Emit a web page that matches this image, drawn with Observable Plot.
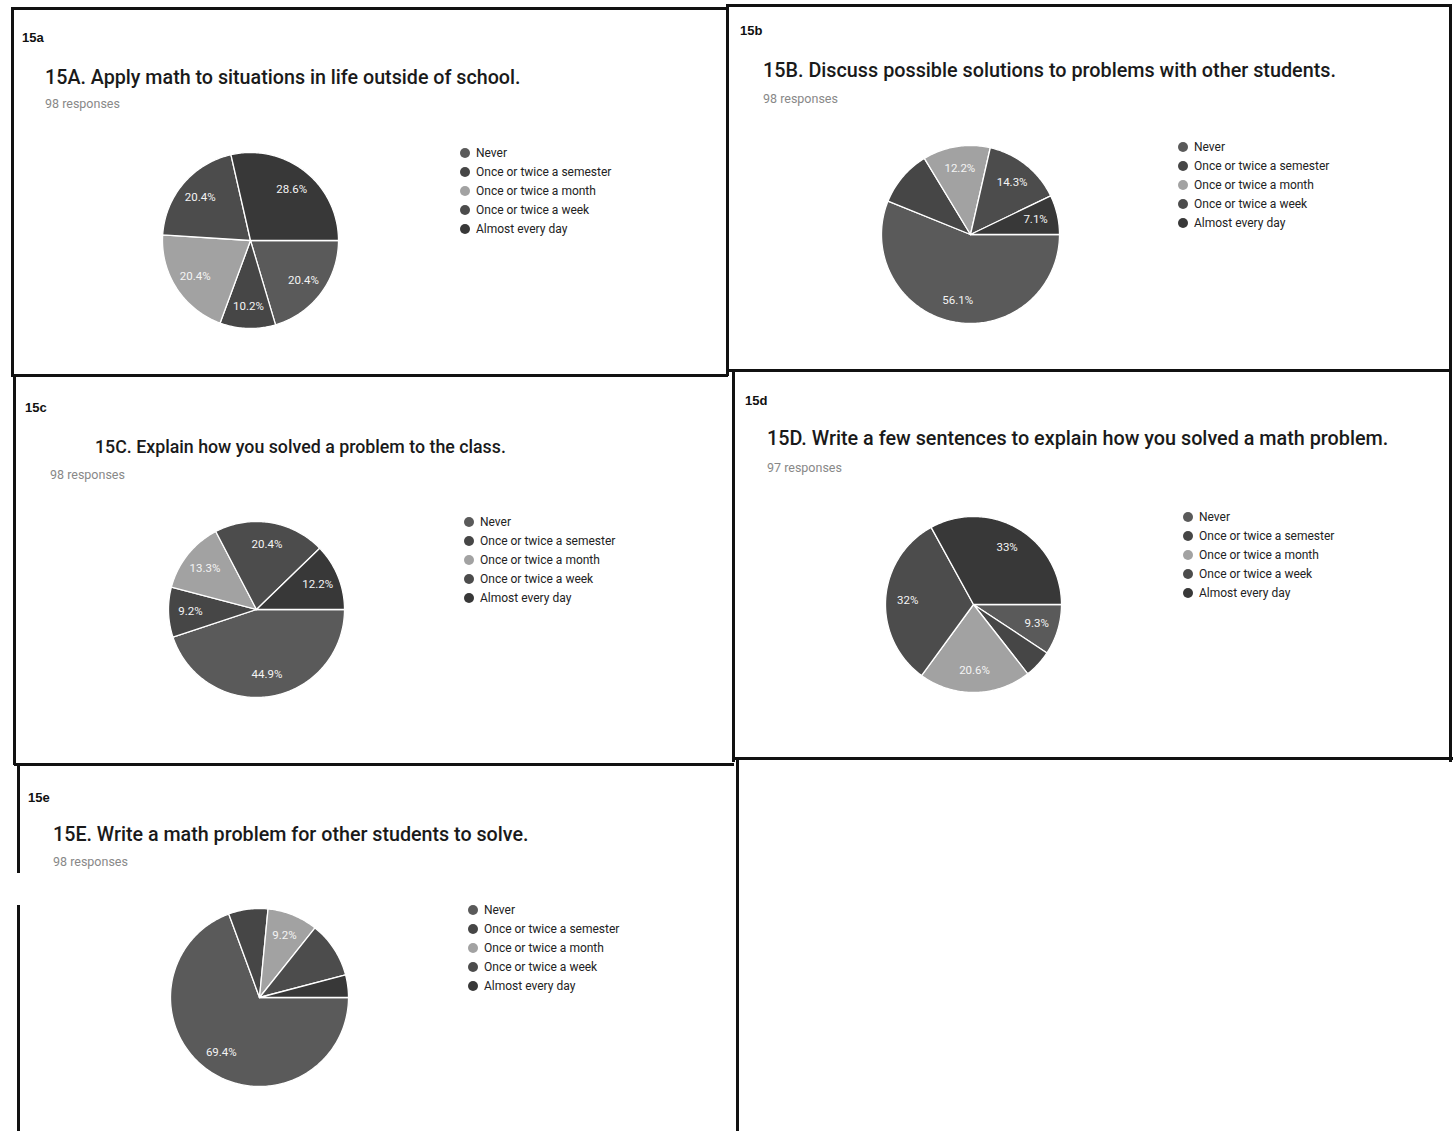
<!DOCTYPE html>
<html>
<head>
<meta charset="utf-8">
<script src="https://cdn.jsdelivr.net/npm/d3@7"></script>
<script src="https://cdn.jsdelivr.net/npm/@observablehq/plot@0.6"></script>
<style>
  html, body { margin: 0; padding: 0; background: #fff; }
  #page { position: relative; width: 1453px; height: 1131px; overflow: hidden; font-family: Roboto, "Noto Sans", sans-serif; }
  .line { position: absolute; background: #111; }
  .pid { position: absolute; font: bold 13px "Liberation Sans", Arial, sans-serif; color: #111; }
  .title { position: absolute; font-family: Roboto, sans-serif; font-weight: 500; color: #1a1a1a; white-space: nowrap; }
  .resp { position: absolute; font: 12.5px Roboto, sans-serif; color: #888; white-space: nowrap; }
  .legend { position: absolute; font: 12px Roboto, sans-serif; color: #222; }
  .legend div { height: 19px; line-height: 19px; white-space: nowrap; }
  .legend span.sw { display: inline-block; width: 10px; height: 10px; border-radius: 50%; vertical-align: -1px; margin-right: 6px; }
  .pie { position: absolute; }
</style>
</head>
<body>
<div id="page"></div>
<script>
// ---------- data ----------
const categories = ["Never", "Once or twice a semester", "Once or twice a month", "Once or twice a week", "Almost every day"];
const panelIds = ["15a", "15b", "15c", "15d", "15e"];
const titles = [
  "15A. Apply math to situations in life outside of school.",
  "15B. Discuss possible solutions to problems with other students.",
  "15C. Explain how you solved a problem to the class.",
  "15D. Write a few sentences to explain how you solved a math problem.",
  "15E. Write a math problem for other students to solve."
];
const responses = [98, 98, 98, 97, 98];
// response counts per category (Never .. Almost every day)
const counts15a = [20, 10, 20, 20, 28];
const counts15b = [55, 10, 12, 14, 7];
const counts15c = [44, 9, 13, 20, 12];
const counts15d = [9, 5, 20, 31, 32];
const counts15e = [68, 7, 9, 10, 4];
const counts = [counts15a, counts15b, counts15c, counts15d, counts15e];
// slices whose percentage label is visible in the reference
const shownLabels = [[0,1,2,3,4], [0,2,3,4], [0,1,2,3,4], [0,2,3,4], [0,2]];

// ---------- styling / layout ----------
const grays = ["#5a5a5a", "#464646", "#a2a2a2", "#4c4c4c", "#383838"];
const layout = [
  {id:[22,30], title:[45,66,19.7], resp:[45,96], cx:250, cy:240, r:88, legend:[460,144]},
  {id:[740,23], title:[763,59,19.8], resp:[763,91], cx:970, cy:234, r:89, legend:[1178,138]},
  {id:[25,400], title:[95,436,17.8], resp:[50,467], cx:256, cy:609, r:88, legend:[464,513]},
  {id:[745,393], title:[767,427,19.8], resp:[767,460], cx:973, cy:604, r:88, legend:[1183,508]},
  {id:[28,790], title:[53,823,19.7], resp:[53,854], cx:259, cy:997, r:89, legend:[468,901]}
];
const borders = [
  // [left, top, width, height]
  [12, 7, 716, 3], [727, 4, 724, 3],
  [11, 7, 3, 370], [726, 4, 3, 372], [1449, 4, 3, 758],
  [12, 374, 716, 3], [727, 369, 724, 3],
  [13, 375, 3, 390], [732, 370, 3, 392],
  [14, 763, 720, 3], [733, 757, 720, 3],
  [17, 763, 3, 110], [17, 905, 3, 226], [736, 758, 3, 373]
];

const page = document.getElementById("page");
for (const [l, t, w, h] of borders) {
  const d = document.createElement("div");
  d.className = "line";
  Object.assign(d.style, {left: l + "px", top: t + "px", width: w + "px", height: h + "px"});
  page.appendChild(d);
}

function fmt(c, total) {
  let s = (c / total * 100).toFixed(1);
  if (s.endsWith(".0")) s = s.slice(0, -2);
  return s + "%";
}

panelIds.forEach((pid, i) => {
  const L = layout[i];
  const idEl = document.createElement("div");
  idEl.className = "pid"; idEl.textContent = pid;
  Object.assign(idEl.style, {left: L.id[0] + "px", top: L.id[1] + "px"});
  page.appendChild(idEl);

  const t = document.createElement("div");
  t.className = "title"; t.textContent = titles[i];
  Object.assign(t.style, {left: L.title[0] + "px", top: L.title[1] + "px", fontSize: L.title[2] + "px"});
  page.appendChild(t);

  const r = document.createElement("div");
  r.className = "resp"; r.textContent = responses[i] + " responses";
  Object.assign(r.style, {left: L.resp[0] + "px", top: L.resp[1] + "px"});
  page.appendChild(r);

  const lg = document.createElement("div");
  lg.className = "legend";
  Object.assign(lg.style, {left: L.legend[0] + "px", top: L.legend[1] + "px"});
  categories.forEach((c, j) => {
    const row = document.createElement("div");
    const sw = document.createElement("span");
    sw.className = "sw"; sw.style.background = grays[j];
    row.appendChild(sw);
    row.appendChild(document.createTextNode(c));
    lg.appendChild(row);
  });
  page.appendChild(lg);

  // pie
  const vals = counts[i];
  const total = d3.sum(vals);
  const arcs = d3.pie().sort(null).value(d => d)
    .startAngle(Math.PI / 2).endAngle(Math.PI / 2 + 2 * Math.PI)(vals);
  const pts = [];
  const labels = [];
  arcs.forEach((a, j) => {
    const cat = categories[j];
    pts.push({cat, x: 0, y: 0});
    const n = Math.max(2, Math.ceil((a.endAngle - a.startAngle) / (Math.PI / 180)));
    for (let s = 0; s <= n; s++) {
      const ang = a.startAngle + (a.endAngle - a.startAngle) * s / n;
      pts.push({cat, x: Math.sin(ang), y: Math.cos(ang)});
    }
    pts.push({cat, x: 0, y: 0});
    if (shownLabels[i].includes(j)) {
      const m = (a.startAngle + a.endAngle) / 2;
      labels.push({x: 0.75 * Math.sin(m), y: 0.75 * Math.cos(m), text: fmt(vals[j], total)});
    }
  });
  const S = 220;
  const k = S / 2 / L.r;
  const svg = Plot.plot({
    width: S, height: S, margin: 0,
    x: {domain: [-k, k], axis: null},
    y: {domain: [-k, k], axis: null},
    color: {domain: categories, range: grays},
    style: {background: "transparent", overflow: "visible"},
    marks: [
      Plot.line(pts, {x: "x", y: "y", z: "cat", fill: "cat", stroke: "white", strokeWidth: 1.3, strokeLinejoin: "round"}),
      Plot.text(labels, {x: "x", y: "y", text: "text", fill: "#f4f4f4", fontSize: 11.5, fontFamily: "Roboto, sans-serif"})
    ]
  });
  const wrap = document.createElement("div");
  wrap.className = "pie";
  Object.assign(wrap.style, {left: (L.cx - S / 2) + "px", top: (L.cy - S / 2) + "px"});
  wrap.appendChild(svg);
  page.appendChild(wrap);
});
</script>
</body>
</html>
